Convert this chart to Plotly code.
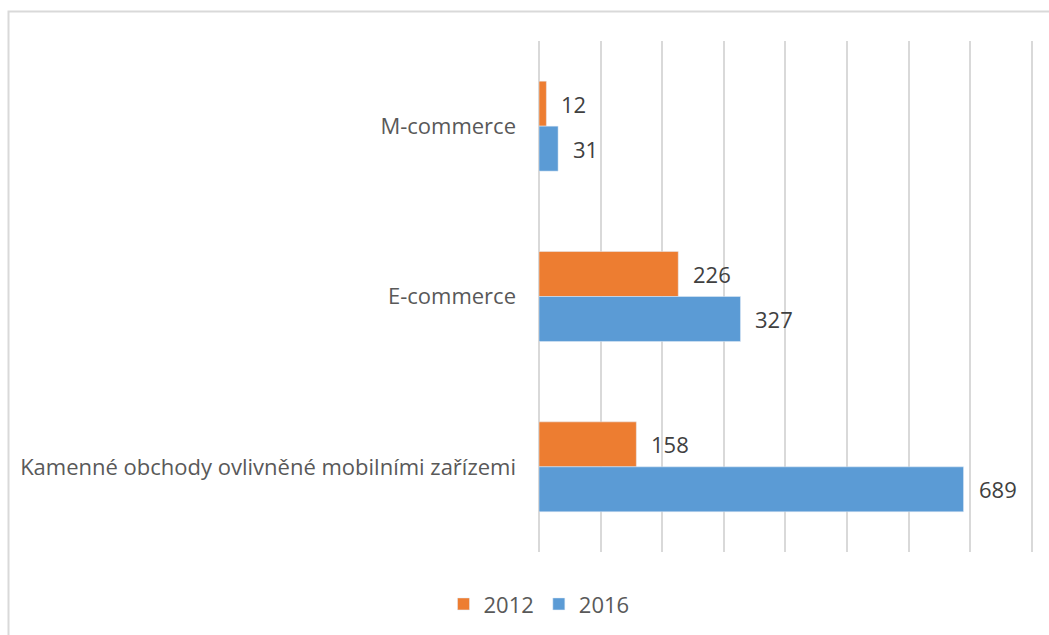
import plotly.graph_objects as go

# Sales channel categories, listed top to bottom
categories = [
    "M-commerce",
    "E-commerce",
    "Kamenné obchody ovlivněné mobilními zařízemi",
]
values_2012 = [12, 226, 158]
values_2016 = [31, 327, 689]
series_names = ["2012", "2016"]

ORANGE = "#ED7D31"
BLUE = "#5B9BD5"
GRID = "#d9d9d9"
FONT = "Open Sans, Noto Sans, sans-serif"

fig = go.Figure()
fig.add_trace(go.Bar(y=categories, x=values_2012, name=series_names[0],
                     orientation="h", marker=dict(color=ORANGE)))
fig.add_trace(go.Bar(y=categories, x=values_2016, name=series_names[1],
                     orientation="h", marker=dict(color=BLUE)))

# Value labels to the right of each bar
for trace_idx, vals in enumerate([values_2012, values_2016]):
    offset = -0.5 if trace_idx == 0 else 0.5
    for ci, (cat, v) in enumerate(zip(categories, vals)):
        fig.add_annotation(
            x=v, y=ci + offset * 0.264, xref="x", yref="y",
            text=str(v), showarrow=False, xanchor="left", xshift=13,
            font=dict(family=FONT, size=22, color="#404040"),
        )

fig.update_layout(
    width=1049, height=635,
    margin=dict(l=539, r=14, t=41, b=83, autoexpand=False),
    paper_bgcolor="white", plot_bgcolor="white",
    barmode="group", bargap=0.472, bargroupgap=0,
    showlegend=True,
    legend=dict(orientation="h", x=539 / 1049, xref="container",
                xanchor="center", y=-0.102, yanchor="middle",
                font=dict(family=FONT, size=22, color="#595959"),
                tracegroupgap=0),
    font=dict(family=FONT, size=22, color="#595959"),
    xaxis=dict(range=[0, 805], dtick=100, showgrid=True, gridcolor=GRID,
               gridwidth=2, showticklabels=False, zeroline=True,
               zerolinecolor=GRID, zerolinewidth=2,
               showline=False, ticks="", automargin=False),
    yaxis=dict(autorange="reversed", showgrid=False, zeroline=False,
               showline=False, ticks="", ticklabelstandoff=22,
               automargin=False,
               tickfont=dict(family=FONT, size=22, color="#595959")),
    shapes=[dict(type="rect", xref="paper", yref="paper",
                 x0=(8.5 - 539) / 496, x1=(1060 - 539) / 496,
                 y0=(552 - 650) / 511, y1=(552 - 11.5) / 511,
                 line=dict(color=GRID, width=2), layer="below")],
)

fig.write_html("out.html")
